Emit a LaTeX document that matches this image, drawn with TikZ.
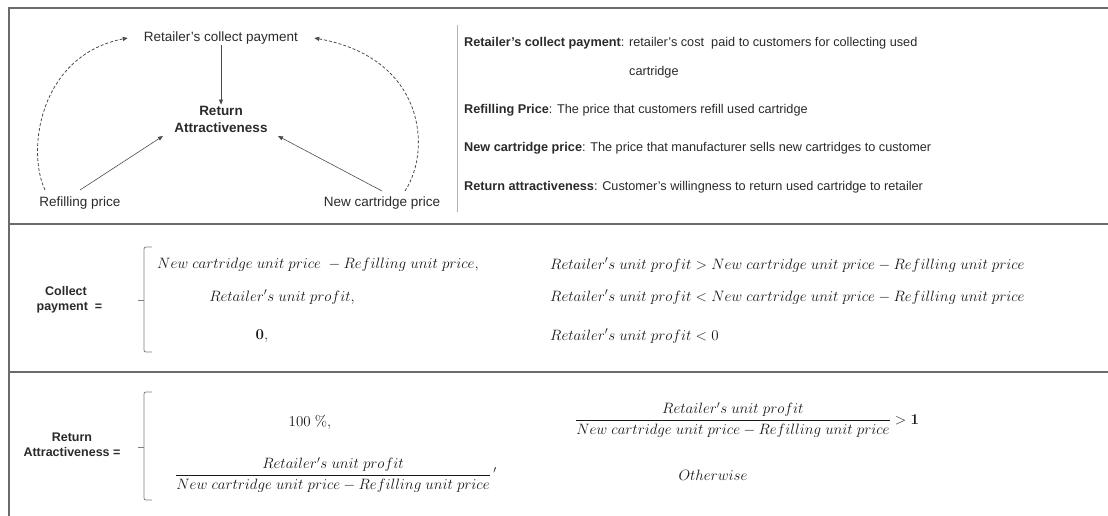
\RequirePackage{fix-cm}
\documentclass[tikz,border=0pt]{standalone}
\usepackage[no-math]{fontspec}
\setmainfont{Liberation Sans}
\usepackage{amsmath}
\usetikzlibrary{arrows.meta, positioning}

\definecolor{framegray}{HTML}{6B6B6B}
\definecolor{txtgray}{HTML}{2A2A2A}

\begin{document}
\begin{tikzpicture}[x=1pt, y=-1pt,
  every node/.style={text=txtgray, inner sep=1pt},
  lbl/.style={font=\fontsize{13.5}{16}\selectfont},
  defn/.style={anchor=west, font=\fontsize{12.7}{15}\selectfont},
  eqn/.style={text=black!90, font=\fontsize{15}{18}\selectfont},
  hdr/.style={align=center, font=\fontsize{12.5}{15}\selectfont\bfseries},
  link/.style={-{Triangle[length=5pt,width=4pt]}, draw=black!70, line width=0.6pt},
  feedback/.style={link, line width=0.8pt, dash pattern=on 3pt off 2pt},
  bracket/.style={draw=black!50, line width=0.8pt, rounded corners=2pt}]
  \useasboundingbox (0,0) rectangle (1108,516);

  % frame and dividers
  \draw[framegray, line width=2.5pt] (9,516) -- (9,8) -- (1108,8);
  \draw[framegray, line width=2pt] (9,224) -- (1108,224);
  \draw[framegray, line width=2pt] (9,372) -- (1108,372);
  \draw[black!30, line width=1pt] (457,25) -- (457,212);

  % causal diagram
  \node[lbl, inner xsep=16pt] (collect) at (221,38) {Retailer's collect payment};
  \node[lbl, align=center, font=\fontsize{13.5}{17}\selectfont\bfseries] (attract) at (221,119) {Return\\Attractiveness};
  \node[lbl] (refill) at (80,203) {Refilling price};
  \node[lbl] (newcart) at (382,203) {New cartridge price};
  \draw[link] (collect) -- (attract);
  \draw[link] (80,190) -- (163,136);
  \draw[link] (382,191) -- (278,136);
  \draw[feedback] (45,190) .. controls (26,150) and (40,55) .. (collect.west);
  \draw[feedback] (405,191) .. controls (432,150) and (425,58) .. (collect.east);

  % definitions
  \node[defn] (d1) at (463,43) {\textbf{Retailer's collect payment}: retailer's cost\ \ paid to customers for collecting used};
  \node[defn] (d1b) at (628,72) {cartridge};
  \node[defn] (d2) at (463,110) {\textbf{Refilling Price}: The price that customers refill used cartridge};
  \node[defn] (d3) at (463,148) {\textbf{New cartridge price}: The price that manufacturer sells new cartridges to customer};
  \node[defn] (d4) at (463,187) {\textbf{Return attractiveness}: Customer's willingness to return used cartridge to retailer};

  % collect payment
  \node[hdr] (cp) at (66,300) {Collect\\\ \ payment\ \ =};
  \draw[bracket] (152,247) -- (144,247) -- (144,352) -- (152,352);
  \draw[black!50, line width=0.8pt] (144,300) -- (138,300);
  \node[eqn, anchor=west] (c1) at (156,265) {$New\ cartridge\ unit\ price\ - Refilling\ unit\ price,$};
  \node[eqn] (c2) at (282,297) {$Retailer's\ unit\ profit,$};
  \node[eqn] (c3) at (262,336) {$\mathbf{0},$};
  \node[eqn, anchor=west] (r1) at (549,265) {$Retailer's\ unit\ profit > New\ cartridge\ unit\ price - Refilling\ unit\ price$};
  \node[eqn, anchor=west] (r2) at (549,297) {$Retailer's\ unit\ profit < New\ cartridge\ unit\ price - Refilling\ unit\ price$};
  \node[eqn, anchor=west] (r3) at (549,336) {$Retailer's\ unit\ profit < 0$};

  % return attractiveness
  \node[hdr] (ra) at (72,445) {Return\\Attractiveness =};
  \draw[bracket] (152,392) -- (144,392) -- (144,500) -- (152,500);
  \draw[black!50, line width=0.8pt] (144,447) -- (138,447);
  \node[eqn] (a1) at (310,422) {$100\ \%,$};
  \node[eqn] (a2) at (336,475) {$\dfrac{Retailer's\ unit\ profit}{New\ cartridge\ unit\ price - Refilling\ unit\ price}\,{}'$};
  \node[eqn] (q1) at (747,420) {$\dfrac{Retailer's\ unit\ profit}{New\ cartridge\ unit\ price - Refilling\ unit\ price} > \mathbf{1}$};
  \node[eqn] (q2) at (713,475) {$Otherwise$};
\end{tikzpicture}
\end{document}
